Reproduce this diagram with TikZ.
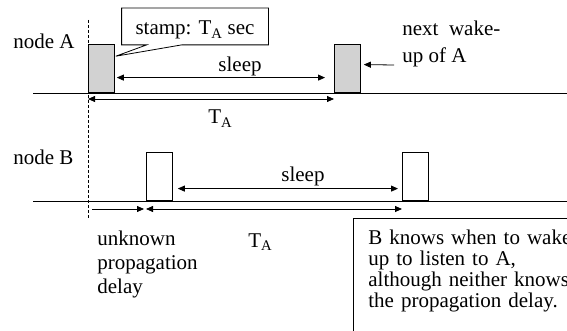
\documentclass[tikz,border=0pt]{standalone}
\usepackage{fontspec}
\setmainfont{Liberation Serif}
\usetikzlibrary{calc}
\usetikzlibrary{arrows.meta}
% one wake-up slot standing on a timeline
\def\wakeslot#1#2#3{
  \node [wake, fill=#3, anchor=south west] (#1) at (#2) {};
}

\begin{document}
\begin{tikzpicture}[x=1pt, y=-1pt, line width=.8pt,
  every node/.style={font=\fontsize{21}{24}\selectfont, inner sep=0pt},
  wake/.style={draw, minimum width=26pt, minimum height=48pt},
  span/.style={{Triangle[length=7pt,width=6pt]}-{Triangle[length=7pt,width=6pt]}},
  tip/.style={-{Triangle[length=7pt,width=6pt]}}]
\clip (0,0) rectangle (567,331);

% timelines and the common start
\draw (33,93) coordinate (la) -- (567,93) coordinate (ra);
\draw (33,201) coordinate (lb) -- (567,201) coordinate (rb);
\draw [dash pattern=on 3pt off 2pt, line width=.8pt]
  (88,20) coordinate (dtop) -- (88,218) coordinate (dbot);

% wake-up slots
\wakeslot{a1}{88,93}{gray!35}
\wakeslot{a2}{334,93}{gray!35}
\wakeslot{b1}{146,201}{white}
\wakeslot{b2}{402,201}{white}

\node [anchor=base west] (na) at (13,49) {node A};
\node [anchor=base west] (nb) at (13,165) {node B};

% stamp callout
\node [minimum width=146pt, minimum height=36pt, text height=20pt, text depth=3pt]
  (stamp) at (195,26.5) {stamp: T\textsubscript{A} sec};
\coordinate (ptr) at ($(a1.north east)+(1,12)$);
\draw ($(stamp.south west)+(25,0)$) -- (stamp.south west) -- (stamp.north west)
  -- (stamp.north east) -- (stamp.south east) -- ($(stamp.south west)+(60,0)$)
  -- (ptr) -- cycle;

% node A
\draw [span] ($(a1.east)+(2,9)$) -- ($(a2.west)+(-9,9)$);
\node [anchor=base] (sla) at (240,72) {sleep};
\draw [span] ($(a1.south west)+(0,6)$) -- ($(a2.south west)+(0,6)$);
\node [anchor=base west] (taa) at (208,124) {T\textsubscript{A}};
\coordinate (nwa) at (394,65);
\draw [tip] (nwa) -- ($(a2.east)+(3,-4)$);
\node [anchor=north west, align=left, font=\fontsize{21}{27}\selectfont]
  (next) at (402,21) {next\ \ wake-\\up of A};

% node B
\draw [span] ($(b1.east)+(5,12)$) -- ($(b2.west)+(-4,12)$);
\node [anchor=base west] (slb) at (281,182) {sleep};
\draw [span] ($(b1.south west)+(0,8)$) -- ($(b2.south west)+(0,8)$);
\node [anchor=base west] (tab) at (248,247) {T\textsubscript{A}};
\draw [tip] ($(dbot)+(4,-9)$) -- ($(b1.south west)+(-2,8)$);
\node [anchor=north west, align=left] (delay) at (97,231)
  {unknown\\propagation\\delay};

% note box, cut off at the right and bottom edges
\node [anchor=north west, align=left, text width=260pt, inner xsep=15pt,
  inner ysep=12pt, font=\fontsize{21}{21}\selectfont] (info) at (353,218)
  {B knows when to wake\\up to listen to A,\\although neither knows\\the propagation delay.};
\draw (info.north east) -- (info.north west) -- ($(info.south west)+(0,20)$);
\end{tikzpicture}
\end{document}
